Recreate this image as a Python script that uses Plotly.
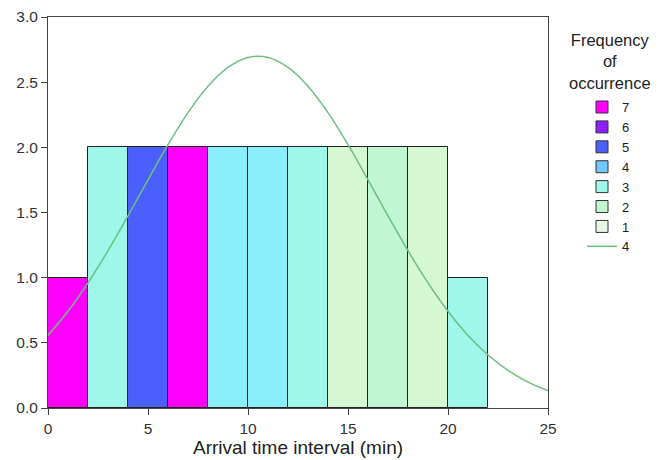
import plotly.graph_objects as go

# Histogram bins (left edges), width 2 min
bin_left = [0, 2, 4, 6, 8, 10, 12, 14, 16, 18, 20]
counts = [1, 2, 2, 2, 2, 2, 2, 2, 2, 2, 1]
bar_colors = ["#ff00ff", "#9ef7e8", "#4b5ffe", "#ff00ff", "#8aeffa", "#8aeffa",
              "#9ef7e8", "#d5f8d3", "#c0f6d2", "#d5f8d3", "#9ef7e8"]

# Legend categories
legend_title_lines = ["Frequency", "of", "occurrence"]
legend_labels = ["7", "6", "5", "4", "3", "2", "1"]
legend_colors = ["#ff00ff", "#8c1eff", "#4b5ffe", "#70c8ff", "#9ef7e8", "#c2f5d2", "#e8f5e3"]

# Fitted curve
curve_x = list(range(0, 26))
curve_y = [0.557, 0.742, 0.960, 1.207, 1.474, 1.751, 2.020, 2.266, 2.469, 2.614,
           2.690, 2.690, 2.614, 2.469, 2.266, 2.020, 1.751, 1.474, 1.207, 0.960,
           0.742, 0.557, 0.407, 0.289, 0.199, 0.133]

bin_width = 2
centers = [b + bin_width / 2 for b in bin_left]

fig = go.Figure()
fig.add_trace(go.Bar(
    x=centers, y=counts, width=[bin_width] * len(centers),
    marker=dict(color=bar_colors, line=dict(color="#222222", width=1)),
    showlegend=False, hoverinfo="skip"))

for lab, col in zip(legend_labels, legend_colors):
    fig.add_trace(go.Bar(x=[None], y=[None], name=lab,
                         marker=dict(color=col, line=dict(color="#333333", width=1))))

fig.add_trace(go.Scatter(x=curve_x, y=curve_y, mode="lines", name="4",
                         line=dict(color="#6dbf80", width=1.5, shape="spline")))

# legend title as one centred multi-line annotation (plot area 47..547 x, 16..407 y)
fig.add_annotation(text="<br>".join(legend_title_lines), xref="paper", yref="paper",
                   x=(609 - 47) / 500, y=(407 - 61) / 391,
                   xanchor="center", yanchor="middle", align="center", showarrow=False,
                   font=dict(size=16.5, color="#222222"))

fig.update_layout(
    width=662, height=452,
    margin=dict(l=40, r=122, t=9, b=52, autoexpand=False),
    paper_bgcolor="white", plot_bgcolor="white",
    font=dict(family="Liberation Sans, Arial, sans-serif", size=13, color="#333333"),
    barmode="overlay", bargap=0,
    legend=dict(
        x=1.068, xanchor="left", xref="paper", y=0.808, yanchor="top",
        font=dict(size=13, color="#222222"),
        itemwidth=30, tracegroupgap=0,
        bgcolor="rgba(0,0,0,0)",
    ),
    xaxis=dict(range=[0, 25], tickvals=[0, 5, 10, 15, 20, 25],
               showgrid=False, zeroline=False, automargin=False,
               showline=True, linecolor="#444444", linewidth=1, mirror=True,
               ticks="outside", ticklen=6, tickcolor="#444444",
               tickfont=dict(size=15.5, color="#333333"),
               title=dict(text="Arrival time interval (min)", font=dict(size=19, color="#222222"),
                          standoff=4)),
    yaxis=dict(range=[0, 3.0], tickvals=[0, 0.5, 1.0, 1.5, 2.0, 2.5, 3.0],
               tickformat=".1f", automargin=False,
               showgrid=False, zeroline=False,
               showline=True, linecolor="#444444", linewidth=1, mirror=True,
               ticks="outside", ticklen=6, tickcolor="#444444",
               tickfont=dict(size=15.5, color="#333333")),
)

fig.write_html("out.html")
